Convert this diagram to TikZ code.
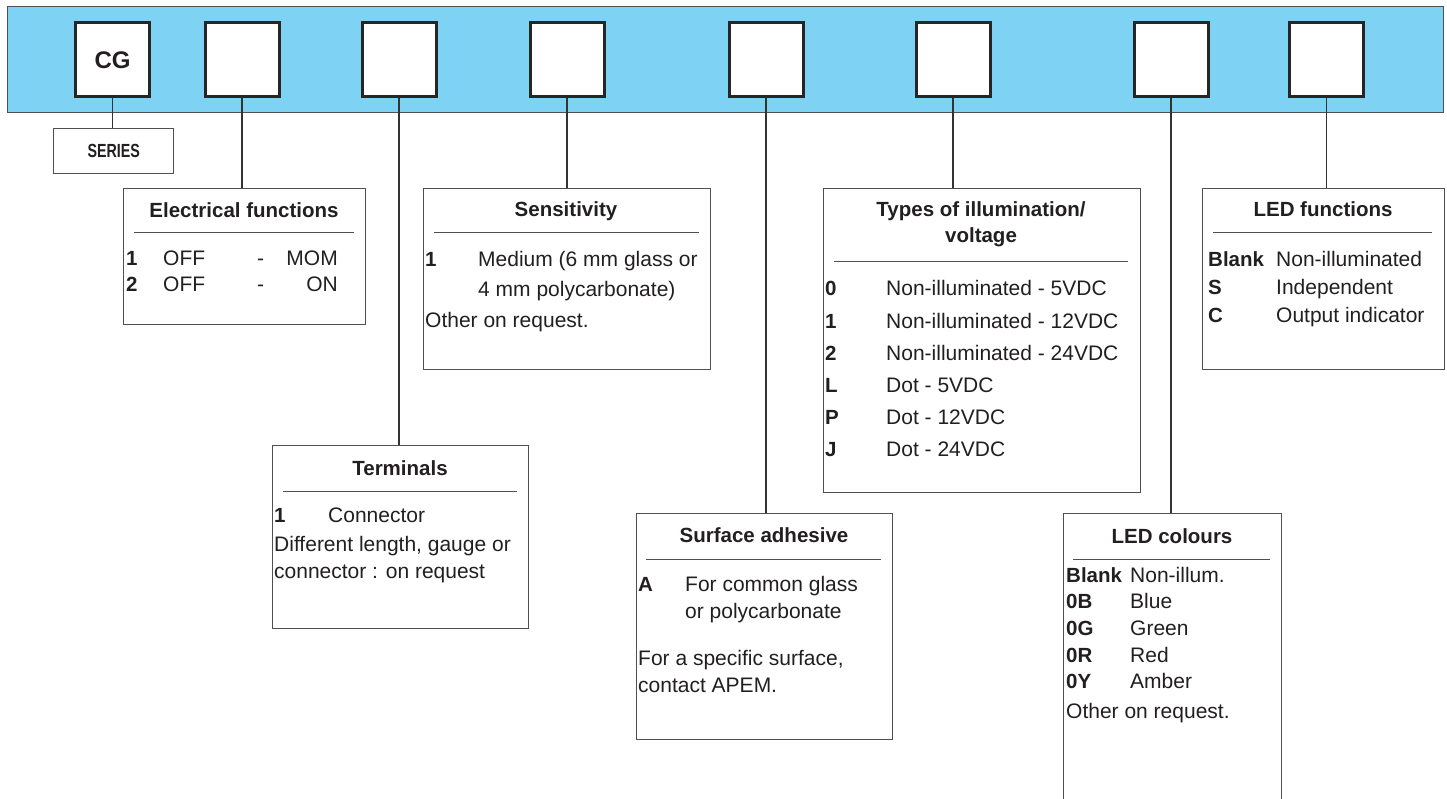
\documentclass[tikz,border=0pt]{standalone}
\usepackage{fontspec}
\setmainfont{Liberation Sans}
\definecolor{barblue}{RGB}{126,211,244}
\definecolor{lineg}{RGB}{80,80,80}
\definecolor{ink}{RGB}{35,31,32}
\begin{document}
\begin{tikzpicture}[x=1pt,y=-1pt,
  every node/.style={text=ink},
  sq/.style={draw=black!85, line width=3pt, fill=white, minimum size=74pt, inner sep=0pt},
  ibox/.style={draw=lineg, line width=1.3pt, fill=white, anchor=north west, inner sep=0pt},
  conn/.style={draw=black!80, line width=1.2pt},
  rulel/.style={draw=lineg, line width=1pt},
  ttl/.style={font=\fontsize{20.5}{24}\selectfont\bfseries, anchor=base, inner sep=0pt},
  txt/.style={font=\fontsize{21}{24}\selectfont, anchor=base west, inner sep=0pt},
  key/.style={font=\fontsize{20.5}{24}\selectfont\bfseries, anchor=base west, inner sep=0pt},
  txtr/.style={font=\fontsize{21}{24}\selectfont, anchor=base east, inner sep=0pt}]
\useasboundingbox (0,0) rectangle (1447,799);
\clip (0,0) rectangle (1447,799);
% bar
\fill[barblue] (7,7) rectangle (1443,113);
\draw[lineg, line width=1pt] (7,7) rectangle (1443,113);
% squares
\node[sq, font=\fontsize{24}{28}\selectfont\bfseries] (s1) at (112.5,60) {CG};
\node[sq] (s2) at (242,60) {};
\node[sq] (s3) at (399,60) {};
\node[sq] (s4) at (567,60) {};
\node[sq] (s5) at (766,60) {};
\node[sq] (s6) at (953,60) {};
\node[sq] (s7) at (1171,60) {};
\node[sq] (s8) at (1326.5,60) {};
% boxes
\node[ibox, minimum width=120pt, minimum height=45pt] (series) at (53,128) {};
\node[ibox, minimum width=242pt, minimum height=136pt] (elec) at (123,188) {};
\node[ibox, minimum width=287pt, minimum height=181pt] (sens) at (423,188) {};
\node[ibox, minimum width=317pt, minimum height=304pt] (types) at (823,188) {};
\node[ibox, minimum width=242pt, minimum height=181pt] (ledf) at (1202,188) {};
\node[ibox, minimum width=256pt, minimum height=183pt] (term) at (272,445) {};
\node[ibox, minimum width=256pt, minimum height=226pt] (surf) at (636,513) {};
\node[ibox, minimum width=218pt, minimum height=320pt] (ledc) at (1063,513) {};
% connectors
\draw[conn] (s1.south) -- (s1.south |- series.north);
\draw[conn] (s2.south) -- (s2.south |- elec.north);
\draw[conn] (s3.south) -- (s3.south |- term.north);
\draw[conn] (s4.south) -- (s4.south |- sens.north);
\draw[conn] (s5.south) -- (s5.south |- surf.north);
\draw[conn] (s6.south) -- (s6.south |- types.north);
\draw[conn] (s7.south) -- (s7.south |- ledc.north);
\draw[conn] (s8.south) -- (s8.south |- ledf.north);
% series
\node[font=\fontsize{19}{22}\selectfont\bfseries, inner sep=0pt] (tseries) at (series.center) {\scalebox{0.75}[1]{SERIES}};
% electrical functions
\node[ttl] (t1) at (244,218) {Electrical functions};
\draw[rulel] (134,233) -- (354,233);
\node[key] (e1k) at (126,266) {1};
\node[txt] (e1a) at (163,266) {OFF};
\node[txt] (e1b) at (257,266) {-};
\node[txtr] (e1c) at (338,266) {MOM};
\node[key] (e2k) at (126,292) {2};
\node[txt] (e2a) at (163,292) {OFF};
\node[txt] (e2b) at (257,292) {-};
\node[txtr] (e2c) at (338,292) {ON};
% sensitivity
\node[ttl] (t2) at (566,217) {Sensitivity};
\draw[rulel] (434,233) -- (699,233);
\node[key] (s1k) at (425,267) {1};
\node[txt] (s1a) at (478,267) {Medium (6 mm glass or};
\node[txt] (s1b) at (478,297) {4 mm polycarbonate)};
\node[txt] (s1c) at (425,327) {Other on request.};
% types
\node[ttl] (t3a) at (981,217) {Types of illumination/};
\node[ttl] (t3b) at (981,243) {voltage};
\draw[rulel] (834,262) -- (1128,262);
\node[key] at (825,296) {0}; \node[txt] at (886,296) {Non-illuminated - 5VDC};
\node[key] at (825,328) {1}; \node[txt] at (886,328) {Non-illuminated - 12VDC};
\node[key] at (825,360) {2}; \node[txt] at (886,360) {Non-illuminated - 24VDC};
\node[key] at (825,392) {L}; \node[txt] at (886,392) {Dot - 5VDC};
\node[key] at (825,424) {P}; \node[txt] at (886,424) {Dot - 12VDC};
\node[key] at (825,456) {J}; \node[txt] at (886,456) {Dot - 24VDC};
% LED functions
\node[ttl] (t4) at (1323,217) {LED functions};
\draw[rulel] (1213,233) -- (1432,233);
\node[key] at (1208,267) {Blank}; \node[txt] at (1276,267) {Non-illuminated};
\node[key] at (1208,295) {S}; \node[txt] at (1276,295) {Independent};
\node[key] at (1208,323) {C}; \node[txt] at (1276,323) {Output indicator};
% terminals
\node[ttl] (t5) at (400,475) {Terminals};
\draw[rulel] (283,491) -- (517,491);
\node[key] at (274,522) {1}; \node[txt] at (328,522) {Connector};
\node[txt] at (274,551) {Different length, gauge or};
\node[txt] at (274,578) {connector : on request};
% surface adhesive
\node[ttl] (t6) at (764,542) {Surface adhesive};
\draw[rulel] (646,559) -- (881,559);
\node[key] at (638,591) {A}; \node[txt] at (685,591) {For common glass};
\node[txt] at (685,618) {or polycarbonate};
\node[txt] at (638,665) {For a specific surface,};
\node[txt] at (638,692) {contact APEM.};
% LED colours
\node[ttl] (t7) at (1172,543) {LED colours};
\draw[rulel] (1073,559) -- (1270,559);
\node[key] at (1066,582) {Blank}; \node[txt] at (1130,582) {Non-illum.};
\node[key] at (1066,608) {0B}; \node[txt] at (1130,608) {Blue};
\node[key] at (1066,635) {0G}; \node[txt] at (1130,635) {Green};
\node[key] at (1066,662) {0R}; \node[txt] at (1130,662) {Red};
\node[key] at (1066,688) {0Y}; \node[txt] at (1130,688) {Amber};
\node[txt] at (1066,718) {Other on request.};
\end{tikzpicture}
\end{document}
